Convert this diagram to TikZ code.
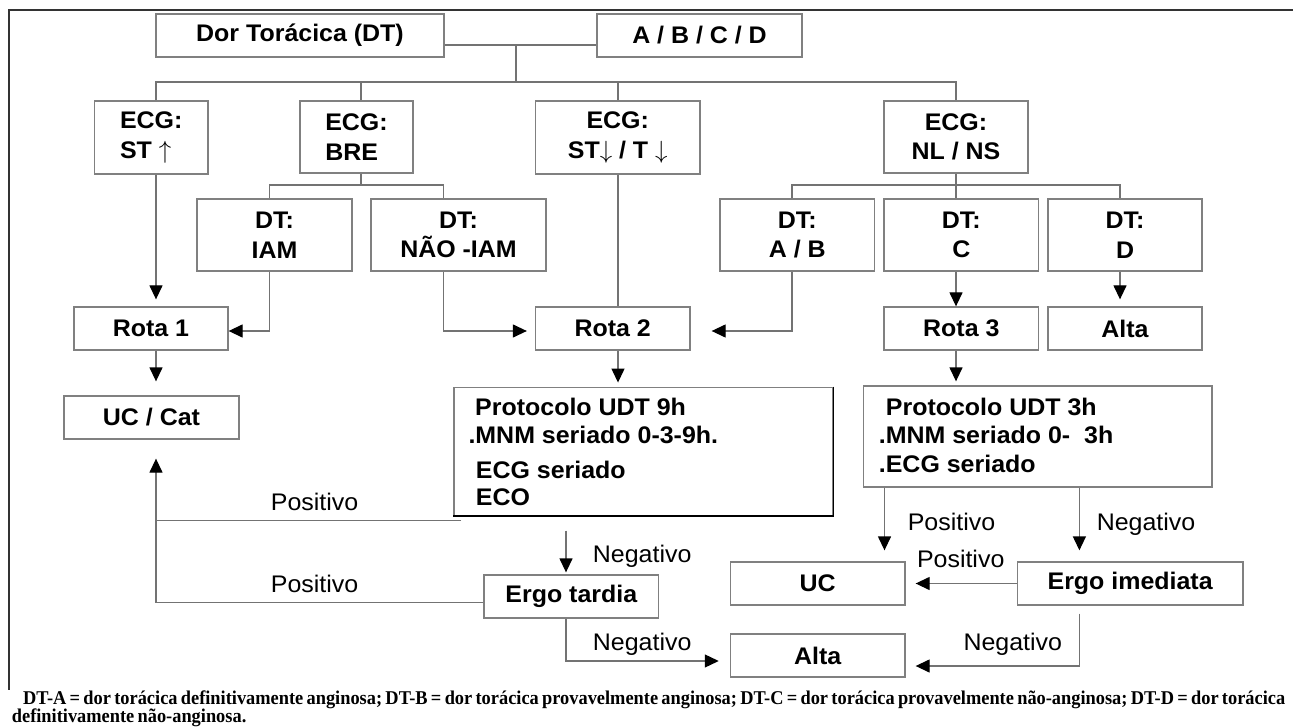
\documentclass[tikz,border=0pt]{standalone}
\usepackage{fontspec}
\setmainfont{Liberation Sans}[FakeStretch=1.04]
\newfontfamily\fnfont{Liberation Serif}
\usetikzlibrary{arrows.meta,calc}
\newsavebox\fnboxA
\newlength\fnwA
\begin{document}
\sbox\fnboxA{\fnfont\bfseries\fontsize{19.5}{22}\selectfont\spaceskip=0.18em plus 0pt minus 0pt DT-A = dor torácica definitivamente anginosa; DT-B = dor torácica provavelmente anginosa; DT-C = dor torácica provavelmente não-anginosa; DT-D = dor torácica}%
\setlength\fnwA{\wd\fnboxA}%
\pgfmathsetmacro\fnsc{1262/\fnwA}%
\begin{tikzpicture}[x=1pt,y=-1pt,
 box/.style={draw=black!50, line width=1.3pt, inner sep=0pt, align=center, font=\bfseries\fontsize{24}{29.5}\selectfont},
 lbl/.style={inner sep=0pt, anchor=base, font=\fontsize{24}{29.5}\selectfont},
 ptxt/.style={inner sep=0pt, anchor=base west, font=\bfseries\fontsize{24}{29.5}\selectfont},
 conn/.style={draw=black!55, line width=1.3pt},
 arr/.style={conn, -{Triangle[length=14pt,width=13pt,color=black]}},
 fn/.style={inner sep=0pt, anchor=base west}
]
\useasboundingbox[fill=white] (0,0) rectangle (1293,727);
% frame
\draw[black!80, line width=2.2pt] (1293,10) -- (9,10) -- (9,690);

% top row
\node[box, minimum width=288pt, minimum height=43pt] (dt) at (300,35.5) {Dor Torácica (DT)};
\node[box, minimum width=205pt, minimum height=43pt] (abcd) at (699.5,35.5) {A / B / C / D};

% ECG row
\node[box, align=left, minimum width=113.5pt, minimum height=73pt] (e1) at (151.25,137.5) {ECG:\\ST $\uparrow$};
\node[box, align=left, minimum width=113pt, minimum height=72pt] (e2) at (356.5,137) {ECG:\\BRE};
\node[box, minimum width=164.5pt, minimum height=73pt] (e3) at (617.75,137.5) {ECG:\\ST$\downarrow$ / T $\downarrow$};
\node[box, minimum width=144pt, minimum height=72pt] (e4) at (956,137) {ECG:\\NL / NS};

% DT row
\node[box, minimum width=155pt, minimum height=72pt] (iam) at (274.5,235) {DT:\\IAM};
\node[box, minimum width=175pt, minimum height=72pt] (naoiam) at (458.5,235) {DT:\\NÃO -IAM};
\node[box, minimum width=154.5pt, minimum height=72pt] (ab) at (797.25,235) {DT:\\A / B};
\node[box, minimum width=154.6pt, minimum height=72pt] (dc) at (961.3,235) {DT:\\C};
\node[box, minimum width=154pt, minimum height=72pt] (dd) at (1125,235) {DT:\\D};

% Rota row
\node[box, minimum width=154pt, minimum height=43pt] (rota1) at (151,328.5) {Rota 1};
\node[box, minimum width=154.5pt, minimum height=43pt] (rota2) at (612.75,328.5) {Rota 2};
\node[box, minimum width=154.6pt, minimum height=43pt] (rota3) at (961.3,328.5) {Rota 3};
\node[box, minimum width=154pt, minimum height=43pt] (alta1) at (1125,328.5) {Alta};

% lower boxes
\node[box, minimum width=175pt, minimum height=43pt] (uccat) at (151.5,417.5) {UC / Cat};
\node[box, minimum width=379pt, minimum height=128pt] (prot9) at (643.5,451.2) {};
\draw[black, line width=1.6pt] (prot9.north east) -- (prot9.south east) -- (prot9.south west);
\node[ptxt] (p9a) at (475,415) {Protocolo UDT 9h};
\node[ptxt] (p9b) at (468.3,443.3) {.MNM seriado 0-3-9h.};
\node[ptxt] (p9c) at (475.7,478.3) {ECG seriado};
\node[ptxt] (p9d) at (475.7,505) {ECO};

\node[box, minimum width=348.3pt, minimum height=101pt] (prot3) at (1037.85,436.5) {};
\node[ptxt] (p3a) at (885.7,415) {Protocolo UDT 3h};
\node[ptxt] (p3b) at (878.7,443.8) {.MNM seriado 0-\ \ 3h};
\node[ptxt] (p3c) at (878.7,472.8) {.ECG seriado};

\node[box, minimum width=174.7pt, minimum height=43pt] (ergot) at (571.35,596.5) {Ergo tardia};
\node[box, minimum width=174.6pt, minimum height=43pt] (uc) at (817.7,583.5) {UC};
\node[box, minimum width=225.7pt, minimum height=43pt] (ergoi) at (1130.15,583.5) {Ergo imediata};
\node[box, minimum width=174.6pt, minimum height=43pt] (alta2) at (817.7,655.5) {Alta};

% bus coordinates
\coordinate (j0) at (516,45);
\coordinate (j1) at (516,82);
\coordinate (b1) at (156,82);
\coordinate (b2) at (361,82);
\coordinate (b3) at (618,82);
\coordinate (b4) at (956,82);
\coordinate (c2) at (361,185);
\coordinate (c2a) at (269.4,185);
\coordinate (c2b) at (443.5,185);
\coordinate (c4) at (956,185);
\coordinate (c4a) at (792,185);
\coordinate (c4b) at (1120,185);

% top connectors
\draw[conn] (dt.east |- j0) -- (abcd.west |- j0);
\draw[conn] (j0) -- (j1);
\draw[conn] (b1 |- e1.north) -- (b1) -- (b4) -- (b4 |- e4.north);
\draw[conn] (b2) -- (b2 |- e2.north);
\draw[conn] (b3) -- (b3 |- e3.north);
\draw[conn] (c2 |- e2.south) -- (c2);
\draw[conn] (c2a |- iam.north) -- (c2a) -- (c2b) -- (c2b |- naoiam.north);
\draw[conn] (c4 |- e4.south) -- (c4);
\draw[conn] (c4a |- ab.north) -- (c4a) -- (c4b) -- (c4b |- dd.north);
\draw[conn] (c4) -- (c4 |- dc.north);

% to rota row
\draw[arr, shorten >=7pt] (b1 |- e1.south) -- (b1 |- rota1.north);
\draw[arr] (c2a |- iam.south) |- ([yshift=-2.5pt]rota1.east);
\draw[arr, shorten >=8pt] (c2b |- naoiam.south) |- ([yshift=-2.5pt]rota2.west);
\draw[conn] (b3 |- e3.south) -- (b3 |- rota2.north);
\draw[arr, shorten >=21pt] (c4a |- ab.south) |- ([yshift=-2.5pt]rota2.east);
\draw[arr] (c4 |- dc.south) -- (c4 |- rota3.north);
\draw[arr, shorten >=7pt] (c4b |- dd.south) -- (c4b |- alta1.north);

% rota to next
\draw[arr, shorten >=14pt] (b1 |- rota1.south) -- (b1 |- uccat.north);
\draw[arr, shorten >=4pt] (b3 |- rota2.south) -- (b3 |- prot9.north);
\draw[arr, shorten >=4pt] (c4 |- rota3.south) -- (c4 |- prot3.north);

% left loop
\coordinate (p9end) at (461,520.7);
\draw[conn] (p9end) -- (b1 |- p9end);
\draw[arr, shorten >=19pt] ([yshift=-6.2pt]ergot.west) -| (b1 |- uccat.south);
\node[lbl] (pos1) at (314.6,510.5) {Positivo};
\node[lbl] (pos2) at (314.6,592.8) {Positivo};

\coordinate (n9) at (566,530.7);
\draw[arr, shorten >=2pt] (n9) -- (n9 |- ergot.north);
\node[lbl, anchor=base west] (neg1) at (592.7,562.1) {Negativo};
\draw[arr, shorten >=11pt] (n9 |- ergot.south) |- ([yshift=-5.5pt]alta2.west);
\node[lbl, anchor=base west] (neg2) at (592.7,650.5) {Negativo};

% right part
\coordinate (q1) at (884.5,487);
\coordinate (q2) at (1079.4,487);
\draw[arr, shorten >=11pt] (q1 |- prot3.south) -- (q1 |- uc.north);
\draw[arr, shorten >=11pt] (q2 |- prot3.south) -- (q2 |- ergoi.north);
\node[lbl] (pos3) at (951.5,530.5) {Positivo};
\node[lbl] (neg3) at (1146,530.5) {Negativo};
\draw[arr, shorten >=10pt] (ergoi.west) -- (uc.east);
\node[lbl] (pos4) at (960.7,567.1) {Positivo};
\draw[arr, shorten <=8pt, shorten >=10pt] (q2 |- ergoi.south) |- ([yshift=-10.5pt]alta2.east);
\node[lbl] (neg4) at (1012.8,650.5) {Negativo};

% footnote
\node[fn] (fn1) at (23,704) {\scalebox{\fnsc}[1]{\usebox\fnboxA}};
\node[fn] (fn2) at (11.7,722.5) {\scalebox{\fnsc}[1]{\fnfont\bfseries\fontsize{19.5}{22}\selectfont\spaceskip=0.18em plus 0pt minus 0pt definitivamente não-anginosa.}};
\end{tikzpicture}
\end{document}
